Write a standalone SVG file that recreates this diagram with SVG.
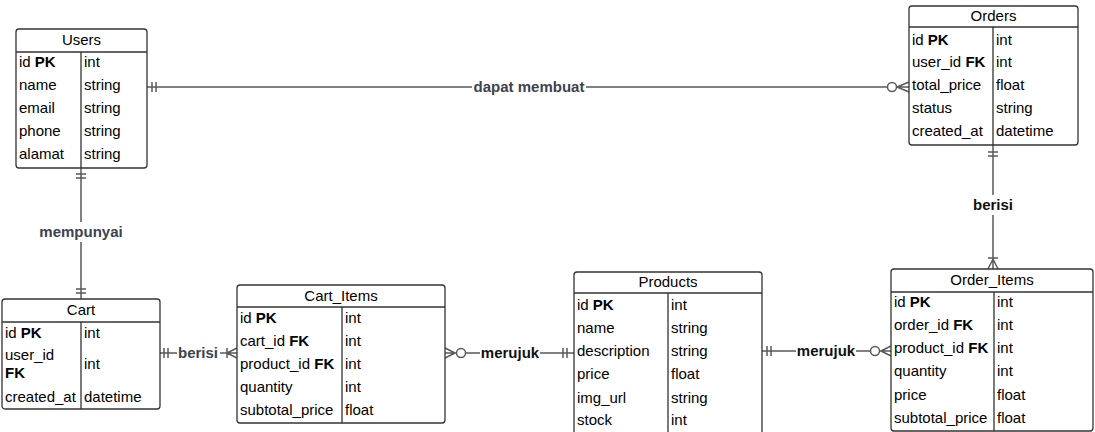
<svg xmlns="http://www.w3.org/2000/svg" width="1095" height="432" viewBox="0 0 1095 432">
<style>
.box{fill:#fff;stroke:#333;stroke-width:1.3}
.ln{stroke:#333;stroke-width:1.3;fill:none}
.t{font-family:"Liberation Sans",Arial,sans-serif;font-size:15px;fill:#000}
.h{text-anchor:middle}
.b{font-weight:bold}
.c{stroke:#5a5a5a;stroke-width:1.5;fill:none}
.cw{stroke:#5a5a5a;stroke-width:1.5;fill:#fff}
.lb{font-family:"Liberation Sans",Arial,sans-serif;font-size:15px;font-weight:bold;text-anchor:middle}
.lg{fill:#3b4350}
.lk{fill:#111}
.bg{fill:#fff}
</style>
<g id="connectors">
  <!-- Users - Orders -->
  <path class="c" d="M147,87 H909 M152,82 V92 M156,82 V92 M897,87 L909,82 M897,87 L909,92"/>
  <circle class="cw" cx="892" cy="87" r="4.5"/>
  <rect class="bg" x="472" y="78" width="114" height="18"/>
  <text class="lb lg" x="529" y="92">dapat membuat</text>
  <!-- Users - Cart -->
  <path class="c" d="M81,168 V299 M76,174 H86 M76,178 H86 M76,289 H86 M76,293 H86"/>
  <rect class="bg" x="38" y="222" width="86" height="20"/>
  <text class="lb lg" x="81" y="237">mempunyai</text>
  <!-- Orders - Order_Items -->
  <path class="c" d="M993,145 V269 M988,152 H998 M988,156 H998 M988,258 H998 M993,259 L988,269 M993,259 L998,269"/>
  <rect class="bg" x="970" y="195" width="46" height="20"/>
  <text class="lb lk" x="993" y="210">berisi</text>
  <!-- Cart - Cart_Items -->
  <path class="c" d="M160,353 H237 M164,348 V358 M168,348 V358 M227,348 V358 M227,353 L237,348 M227,353 L237,358"/>
  <rect class="bg" x="177" y="344" width="43" height="18"/>
  <text class="lb lg" x="198" y="358">berisi</text>
  <!-- Cart_Items - Products -->
  <path class="c" d="M445,353 H574 M455,353 L445,348 M455,353 L445,358 M563,348 V358 M567,348 V358"/>
  <circle class="cw" cx="461" cy="353" r="4.5"/>
  <rect class="bg" x="480" y="344" width="60" height="18"/>
  <text class="lb lk" x="510" y="358">merujuk</text>
  <!-- Products - Order_Items -->
  <path class="c" d="M762,351 H891 M767,346 V356 M771,346 V356 M881,351 L891,346 M881,351 L891,356"/>
  <circle class="cw" cx="875" cy="351" r="4.5"/>
  <rect class="bg" x="796" y="342" width="60" height="18"/>
  <text class="lb lk" x="826" y="356">merujuk</text>
</g>
<g id="users">
  <rect class="box" x="16" y="29" width="131" height="139" rx="3"/>
  <path class="ln" d="M16,52 H147 M81,52 V168"/>
  <text class="t h" x="81.5" y="45">Users</text>
  <text class="t" x="19" y="67">id <tspan class="b">PK</tspan></text><text class="t" x="84" y="67">int</text>
  <text class="t" x="19" y="90">name</text><text class="t" x="84" y="90">string</text>
  <text class="t" x="19" y="113">email</text><text class="t" x="84" y="113">string</text>
  <text class="t" x="19" y="136">phone</text><text class="t" x="84" y="136">string</text>
  <text class="t" x="19" y="159">alamat</text><text class="t" x="84" y="159">string</text>
</g>
<g id="orders">
  <rect class="box" x="909" y="6" width="169" height="139" rx="3"/>
  <path class="ln" d="M909,27 H1078 M993,27 V145"/>
  <text class="t h" x="993.5" y="21">Orders</text>
  <text class="t" x="912" y="45">id <tspan class="b">PK</tspan></text><text class="t" x="996" y="45">int</text>
  <text class="t" x="912" y="67">user_id <tspan class="b">FK</tspan></text><text class="t" x="996" y="67">int</text>
  <text class="t" x="912" y="90">total_price</text><text class="t" x="996" y="90">float</text>
  <text class="t" x="912" y="113">status</text><text class="t" x="996" y="113">string</text>
  <text class="t" x="912" y="136">created_at</text><text class="t" x="996" y="136">datetime</text>
</g>
<g id="cart">
  <rect class="box" x="2" y="299" width="158" height="110" rx="3"/>
  <path class="ln" d="M2,322 H160 M81,322 V409"/>
  <text class="t h" x="81" y="315">Cart</text>
  <text class="t" x="5" y="338">id <tspan class="b">PK</tspan></text><text class="t" x="84" y="338">int</text>
  <text class="t" x="5" y="360">user_id</text><text class="t b" x="5" y="378">FK</text><text class="t" x="84" y="369">int</text>
  <text class="t" x="5" y="402">created_at</text><text class="t" x="84" y="402">datetime</text>
</g>
<g id="cart_items">
  <rect class="box" x="237" y="285" width="208" height="138" rx="3"/>
  <path class="ln" d="M237,307 H445 M342,307 V423"/>
  <text class="t h" x="341" y="301">Cart_Items</text>
  <text class="t" x="240" y="323">id <tspan class="b">PK</tspan></text><text class="t" x="345" y="323">int</text>
  <text class="t" x="240" y="346">cart_id <tspan class="b">FK</tspan></text><text class="t" x="345" y="346">int</text>
  <text class="t" x="240" y="369">product_id <tspan class="b">FK</tspan></text><text class="t" x="345" y="369">int</text>
  <text class="t" x="240" y="392">quantity</text><text class="t" x="345" y="392">int</text>
  <text class="t" x="240" y="415">subtotal_price</text><text class="t" x="345" y="415">float</text>
</g>
<g id="products">
  <rect class="box" x="574" y="272" width="188" height="175" rx="3"/>
  <path class="ln" d="M574,293 H762 M668,293 V447"/>
  <text class="t h" x="668" y="287">Products</text>
  <text class="t" x="577" y="310">id <tspan class="b">PK</tspan></text><text class="t" x="671" y="310">int</text>
  <text class="t" x="577" y="333">name</text><text class="t" x="671" y="333">string</text>
  <text class="t" x="577" y="356">description</text><text class="t" x="671" y="356">string</text>
  <text class="t" x="577" y="379">price</text><text class="t" x="671" y="379">float</text>
  <text class="t" x="577" y="403">img_url</text><text class="t" x="671" y="403">string</text>
  <text class="t" x="577" y="425">stock</text><text class="t" x="671" y="425">int</text>
</g>
<g id="order_items">
  <rect class="box" x="891" y="269" width="202" height="162" rx="3"/>
  <path class="ln" d="M891,292 H1093 M994,292 V431"/>
  <text class="t h" x="992" y="285">Order_Items</text>
  <text class="t" x="894" y="307">id <tspan class="b">PK</tspan></text><text class="t" x="997" y="307">int</text>
  <text class="t" x="894" y="330">order_id <tspan class="b">FK</tspan></text><text class="t" x="997" y="330">int</text>
  <text class="t" x="894" y="353">product_id <tspan class="b">FK</tspan></text><text class="t" x="997" y="353">int</text>
  <text class="t" x="894" y="376">quantity</text><text class="t" x="997" y="376">int</text>
  <text class="t" x="894" y="400">price</text><text class="t" x="997" y="400">float</text>
  <text class="t" x="894" y="423">subtotal_price</text><text class="t" x="997" y="423">float</text>
</g>
</svg>
